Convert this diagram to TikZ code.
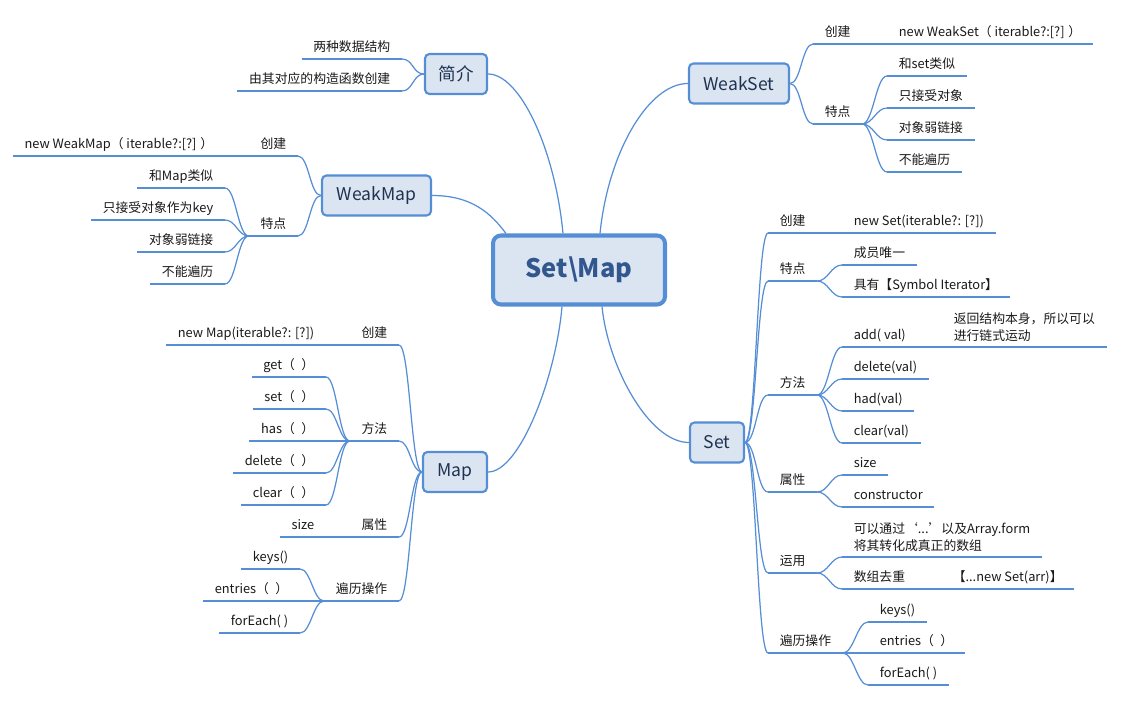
\documentclass[tikz,border=0pt]{standalone}
\usepackage{fontspec}
\setmainfont{Noto Sans CJK SC}
\definecolor{lineblue}{RGB}{85,142,213}
\definecolor{boxfill}{RGB}{219,229,241}
\definecolor{boxtext}{RGB}{31,50,82}
\definecolor{roottext}{RGB}{50,86,142}
\definecolor{leaftext}{RGB}{25,25,25}
\newcommand{\leaffont}{\fontsize{7.3pt}{9.6pt}\selectfont}
\newcommand{\boxfont}{\fontsize{10pt}{12pt}\selectfont}

\begin{document}
\begin{tikzpicture}[x=0.02cm, y=-0.02cm]
   \useasboundingbox (0,0) rectangle (1125,702);
   \tikzstyle{uline}=[draw=lineblue, line width=1.7pt]
   \tikzstyle{leaf}=[inner xsep=6.5pt, font=\leaffont, text=leaftext,
      append after command={(\tikzlastnode.south west) edge[uline] (\tikzlastnode.south east)}]
   \tikzstyle{rleaf}=[leaf, anchor=south west, inner ysep=2pt, text height=7pt, text depth=2pt]
   \tikzstyle{lleaf}=[leaf, anchor=south east, inner ysep=2pt, text height=7pt, text depth=2pt]
   \tikzstyle{rnote}=[leaf, anchor=south west, inner ysep=3pt, align=left]
   \tikzstyle{topic}=[rounded corners=2.5pt, draw=lineblue, line width=1.2pt, fill=boxfill,
      minimum height=0.8cm, inner sep=0pt, font=\boxfont, text=boxtext]
   \tikzstyle{trunk}=[draw=lineblue, line width=0.7pt]
   \tikzstyle{rlink}=[trunk, to path={.. controls +(11,0) and +(-11,0) .. (\tikztotarget)}]
   \tikzstyle{llink}=[trunk, to path={.. controls +(-11,0) and +(11,0) .. (\tikztotarget)}]

   % centre and main topics
   \node[topic, minimum width=3.44cm, minimum height=1.38cm, line width=2.3pt, rounded corners=4.5pt,
      font=\fontsize{14.5pt}{17pt}\selectfont\bfseries, text=roottext] (root) at (579,270) {Set\textbackslash Map};
   \node[topic, minimum width=1.24cm] (intro) at (456,74) {简介};
   \node[topic, minimum width=2.18cm] (wmap) at (376.5,195.5) {WeakMap};
   \node[topic, minimum width=1.28cm] (map) at (455,472) {Map};
   \node[topic, minimum width=2.0cm] (wset) at (739,83.5) {WeakSet};
   \node[topic, minimum width=1.08cm] (set) at (717,442.5) {Set};

   \draw[trunk] (intro.east) .. controls +(32,0) and +(-8,-84) .. ([xshift=-0.32cm]root.north);
   \draw[trunk] (wmap.east) .. controls +(40,0) and +(-15,-20) .. ([xshift=0.3cm]root.north west);
   \draw[trunk] (map.east) .. controls +(32,0) and +(-6,70) .. ([xshift=-0.34cm]root.south);
   \draw[trunk] (wset.west) .. controls +(-40,0) and +(8,-80) .. ([xshift=0.42cm]root.north);
   \draw[trunk] (set.west) .. controls +(-40,0) and +(6,60) .. ([xshift=0.46cm]root.south);

   % 简介
   \foreach \y/\txt [count=\i] in {59/两种数据结构, 91/由其对应的构造函数创建} {
      \node[lleaf] (intro\i) at (402,\y) {\txt};
      \draw[llink] (intro.west) to (intro\i.south east);
   }

   % WeakMap
   \node[lleaf] (wmap-new) at (298,156) {创建};
   \node[lleaf] (wmap-newc) at (225,156) {new WeakMap（ iterable?:[?] ）};
   \draw[llink] (wmap-new.south west) to (wmap-newc.south east);
   \node[lleaf] (wmap-feat) at (298,236) {特点};
   \foreach \y/\txt [count=\i] in {188/和Map类似, 220/只接受对象作为key, 252/对象弱链接, 284/不能遍历} {
      \node[lleaf] (wmap-feat\i) at (225,\y) {\txt};
      \draw[llink] (wmap-feat.south west) to (wmap-feat\i.south east);
   }
   \draw[llink] (wmap.west) to (wmap-new.south east);
   \draw[llink] (wmap.west) to (wmap-feat.south east);

   % Map
   \foreach \nm/\y/\txt in {new/345/创建, meth/441/方法, prop/537/属性, iter/601/遍历操作} {
      \node[lleaf] (map-\nm) at (399,\y) {\txt};
      \draw[llink] (map.west) to (map-\nm.south east);
   }
   \node[lleaf] (map-newc) at (326,345) {new Map(iterable?: [?])};
   \draw[llink] (map-new.south west) to (map-newc.south east);
   \foreach \y/\txt [count=\i] in {377/get（\enspace）, 409/set（\enspace）, 441/has（\enspace）, 473/delete（\enspace）, 505/clear（\enspace）} {
      \node[lleaf] (map-meth\i) at (326,\y) {\txt};
      \draw[llink] (map-meth.south west) to (map-meth\i.south east);
   }
   \node[lleaf] (map-propc) at (326,537) {size};
   \draw[llink] (map-prop.south west) to (map-propc.south east);
   \foreach \y/\txt [count=\i] in {569/keys(), 601/entries（\enspace）, 633/forEach( )} {
      \node[lleaf] (map-iter\i) at (300,\y) {\txt};
      \draw[llink] (map-iter.south west) to (map-iter\i.south east);
   }

   % WeakSet
   \node[rleaf] (wset-new) at (813,44) {创建};
   \node[rleaf] (wset-newc) at (887,44) {new WeakSet（ iterable?:[?] ）};
   \draw[rlink] (wset-new.south east) to (wset-newc.south west);
   \node[rleaf] (wset-feat) at (813,124) {特点};
   \foreach \y/\txt [count=\i] in {76/和set类似, 108/只接受对象, 140/对象弱链接, 172/不能遍历} {
      \node[rleaf] (wset-feat\i) at (887,\y) {\txt};
      \draw[rlink] (wset-feat.south east) to (wset-feat\i.south west);
   }
   \draw[rlink] (wset.east) to (wset-new.south west);
   \draw[rlink] (wset.east) to (wset-feat.south west);

   % Set
   \foreach \nm/\y/\txt in {new/233/创建, feat/281/特点, meth/395/方法, prop/492/属性, use/573/运用, iter/653/遍历操作} {
      \node[rleaf] (set-\nm) at (768,\y) {\txt};
      \draw[rlink] (set.east) to (set-\nm.south west);
   }
   \node[rleaf] (set-newc) at (842,233) {new Set(iterable?: [?])};
   \draw[rlink] (set-new.south east) to (set-newc.south west);
   \foreach \y/\txt [count=\i] in {265/成员唯一, 297/具有【Symbol Iterator】} {
      \node[rleaf] (set-feat\i) at (842,\y) {\txt};
      \draw[rlink] (set-feat.south east) to (set-feat\i.south west);
   }
   \foreach \y/\txt [count=\i] in {347/add( val), 379/delete(val), 411/had(val), 443/clear(val)} {
      \node[rleaf] (set-meth\i) at (842,\y) {\txt};
      \draw[rlink] (set-meth.south east) to (set-meth\i.south west);
   }
   \node[rnote] (set-meth1c) at (942,347) {返回结构本身，所以可以\\进行链式运动};
   \draw[rlink] (set-meth1.south east) to (set-meth1c.south west);
   \foreach \y/\txt [count=\i] in {475/size, 507/constructor} {
      \node[rleaf] (set-prop\i) at (842,\y) {\txt};
      \draw[rlink] (set-prop.south east) to (set-prop\i.south west);
   }
   \node[rnote] (set-use1) at (842,557) {可以通过‘...’以及Array.form\\将其转化成真正的数组};
   \node[rleaf] (set-use2) at (842,589) {数组去重};
   \node[rleaf] (set-use2c) at (941,589) {【...new Set(arr)】};
   \draw[rlink] (set-use.south east) to (set-use1.south west);
   \draw[rlink] (set-use.south east) to (set-use2.south west);
   \draw[rlink] (set-use2.south east) to (set-use2c.south west);
   \foreach \y/\txt [count=\i] in {622/keys(), 653/entries（\enspace）, 685/forEach( )} {
      \node[rleaf] (set-iter\i) at (868,\y) {\txt};
      \draw[rlink] (set-iter.south east) to (set-iter\i.south west);
   }
\end{tikzpicture}
\end{document}
